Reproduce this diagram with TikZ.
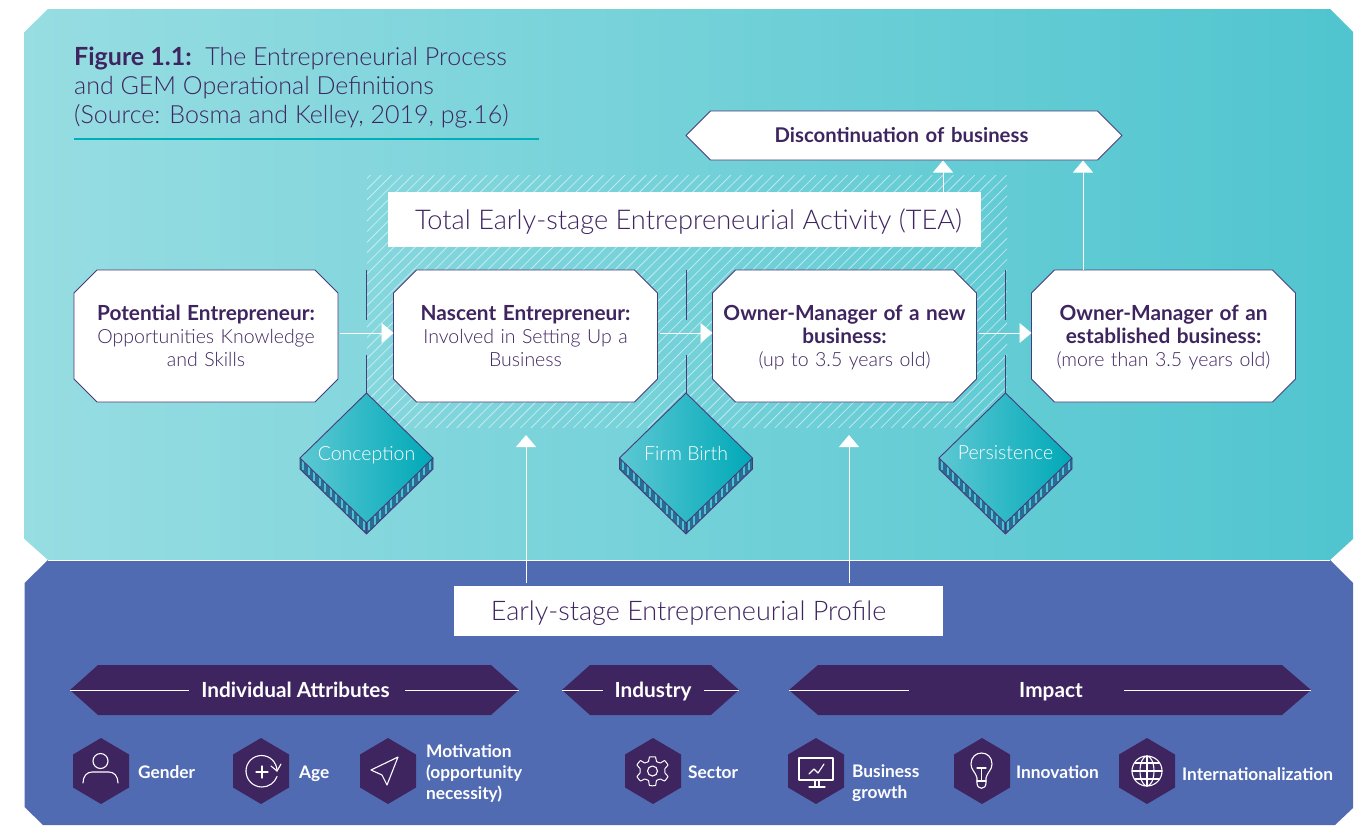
\documentclass[tikz,border=0pt]{standalone}
\usepackage{fontspec}
\setmainfont{Lato}[UprightFont=* Light,BoldFont=* Bold]
\usetikzlibrary{shapes.geometric,arrows.meta,calc}
\definecolor{purp}{HTML}{3F2560}
\definecolor{purpl}{HTML}{4B3A7A}
\definecolor{bluep}{HTML}{516BB3}
\definecolor{tealL}{HTML}{97DDE2}
\definecolor{tealR}{HTML}{50C5CF}
\definecolor{diaL}{HTML}{5CC8D3}
\definecolor{diaR}{HTML}{00A9B8}
\definecolor{tealline}{HTML}{00AEB8}
\newcommand{\bb}[1]{{\fontsize{20.8}{23}\selectfont\bfseries #1}}
\newcommand{\topstrut}{\rule{0pt}{21.1pt}}
\newcommand{\headstrut}{\rule[-7pt]{0pt}{33pt}}
\newcommand{\bandstrut}{\rule[-7.4pt]{0pt}{30.4pt}}
\tikzset{
  x=1pt,y=-1pt,
  whiteplate/.style={fill=white,draw=purpl,line width=.9pt,line join=round},
  darkplate/.style={fill=purp},
  stagebox/.style={rectangle,inner sep=0pt,outer sep=0pt,minimum width=264pt,minimum height=132pt,
    text=purp,align=center,text width=256pt,font=\fontsize{19.5}{23}\selectfont},
  discbox/.style={stagebox,minimum width=436pt,minimum height=49pt,text width=300pt,font=\fontsize{20.3}{24}\selectfont},
  titlebox/.style={fill=white,inner sep=0pt,outer sep=0pt,text=purp,font=\fontsize{27.2}{32}\selectfont},
  band/.style={rectangle,minimum height=50pt,inner sep=0pt,outer sep=0pt,text=white,font=\fontsize{20.8}{24}\selectfont\bfseries},
  hexa/.style={rectangle,minimum width=56pt,minimum height=66pt,inner sep=0pt,outer sep=0pt},
  gate/.style={diamond,minimum width=133pt,minimum height=130pt,aspect=1,inner sep=0pt,outer sep=0pt,draw=purpl,line width=.9pt,
    left color=diaL,right color=diaR,text=white,font=\fontsize{19.5}{23}\selectfont},
  flow/.style={white,line width=.9pt,-{Triangle[width=20pt,length=12pt]}},
  tick/.style={purpl,line width=1pt},
  bandline/.style={white,line width=.9pt},
  icon/.style={white,line width=1.1pt,line cap=round,line join=round},
  lab/.style={anchor=west,inner sep=0pt,text=white,align=left,font=\fontsize{17.3}{21}\selectfont\bfseries},
}
% plate: style, cx, cy, w, h, cutx, cuty
\newcommand{\plate}[7]{%
  \path[#1] ({#2-#4/2},{#3-#5/2+#7}) -- ({#2-#4/2+#6},{#3-#5/2}) -- ({#2+#4/2-#6},{#3-#5/2}) -- ({#2+#4/2},{#3-#5/2+#7})
    -- ({#2+#4/2},{#3+#5/2-#7}) -- ({#2+#4/2-#6},{#3+#5/2}) -- ({#2-#4/2+#6},{#3+#5/2}) -- ({#2-#4/2},{#3+#5/2-#7}) -- cycle;}
\newcommand{\gateshadow}[1]{%
  \fill[purpl!55!diaR] (#1-66.5,458) -- (#1,523) -- (#1+66.5,458) -- (#1+66.5,469) -- (#1,534) -- (#1-66.5,469) -- cycle;
  \foreach \d in {2.75,8.25,...,66}{
    \draw[diaL!85!diaR,line width=1.7pt] (#1-\d,523-\d+1) -- (#1-\d,533-\d);
    \draw[diaL!85!diaR,line width=1.7pt] (#1+\d,523-\d+1) -- (#1+\d,533-\d);
  }
  \draw[purpl,line width=.9pt,line join=round] (#1-66.5,458) -- (#1-66.5,469) -- (#1,534) -- (#1+66.5,469) -- (#1+66.5,458);
  \draw[purpl,line width=.9pt] (#1,523) -- (#1,534);
}
\begin{document}
\begin{tikzpicture}
\useasboundingbox (0,0) rectangle (1370,825);
\fill[white] (0,0) rectangle (1370,825);
% panels
\shade[left color=tealL,right color=tealR] (24.5,32) -- (48,9) -- (1330,9) -- (1353,32) -- (1353,539) -- (1330,560) -- (48,560) -- (24.5,539) -- cycle;
\fill[bluep] (48,560) -- (1330,560) -- (1353,583) -- (1353,808) -- (1335,825) -- (43,825) -- (24.5,807) -- (24.5,583) -- cycle;
\draw[white,line width=.7pt] (48,560.5) -- (1330,560.5);
% title
\node[anchor=north west,inner sep=0pt,text=purp,align=left,font=\fontsize{25}{29.2}\selectfont] (fig) at (74,46.5)
  {\textbf{Figure 1.1:}\ \ The Entrepreneurial Process\\and GEM Operational Definitions\\(Source: Bosma and Kelley, 2019, pg.16)};
\draw[tealline,line width=2.8pt] (74,139) -- (539,139);
% hatch
\begin{scope}
\clip (367,175) rectangle (1007,428);
\foreach \i in {-260,-249.4,...,640}{
  \draw[white,opacity=.55,line width=.8pt] (367+\i,428) -- (367+\i+253,175);
}
\end{scope}
% boxes
\plate{whiteplate}{206}{336}{264}{132}{23}{23}
\plate{whiteplate}{525.5}{336}{264}{132}{23}{23}
\plate{whiteplate}{844.5}{336}{264}{132}{23}{23}
\plate{whiteplate}{1163.5}{336}{264}{132}{23}{23}
\plate{whiteplate}{904}{135.5}{436}{49}{24.5}{24.5}
\node[stagebox] (pot) at (206,336) {\topstrut\bb{Potential Entrepreneur:}\\Opportunities Knowledge\\and Skills\strut};
\node[stagebox] (nas) at (525.5,336) {\topstrut\bb{Nascent Entrepreneur:}\\Involved in Setting Up a\\Business\strut};
\node[stagebox] (own) at (844.5,336) {\topstrut\bb{Owner-Manager of a new}\\\bb{business:}\\(up to 3.5 years old)\strut};
\node[stagebox] (est) at (1163.5,336) {\topstrut\bb{Owner-Manager of an}\\\bb{established business:}\\(more than 3.5 years old)\strut};
\node[discbox] (disc) at (904,135.5) {\hspace*{-5pt}\textbf{Discontinuation of business}};
\node[titlebox,minimum width=593pt,minimum height=55pt] (tea) at (684.5,219.5) {\hspace*{8pt}\headstrut Total Early-stage Entrepreneurial Activity (TEA)};
\node[titlebox,minimum width=489pt,minimum height=50pt,font=\fontsize{27}{32}\selectfont] (prof) at (698.5,611) {\hspace*{-20pt}\headstrut Early-stage Entrepreneurial Profile};
% gates
\gateshadow{366.5}\gateshadow{686}\gateshadow{1005.5}
\node[gate] (g1) at (366.5,458) {\raisebox{10pt}{Conception}};
\node[gate] (g2) at (686,458) {\raisebox{10pt}{Firm Birth}};
\node[gate] (g3) at (1005.5,458) {\raisebox{10pt}{Persistence}};
% ticks
\foreach \g/\x in {g1/366.5,g2/686,g3/1005.5}{
  \coordinate (t1\g) at (\x,270); \coordinate (t2\g) at (\x,320); \coordinate (t3\g) at (\x,355);
  \draw[tick] (t1\g) -- (t2\g);
  \draw[tick] (t3\g) -- (\g.north);
}
% connectors
\draw[flow,shorten <=2pt] ([yshift=3pt]pot.east) -- ([yshift=3pt]nas.west);
\draw[flow,shorten <=2pt] ([yshift=3pt]nas.east) -- ([yshift=3pt]own.west);
\draw[flow,shorten <=2pt] ([yshift=3pt]own.east) -- ([yshift=3pt]est.west);
\coordinate (e1) at (1083,270); \coordinate (d1) at (1083,160.5);
\coordinate (e2) at (943,192); \coordinate (d2) at (943,160.5);
\draw[flow] (e1) -- (d1);
\draw[flow] (e2) -- (d2);
\coordinate (p1) at (526,583); \coordinate (q1) at (526,435);
\coordinate (p2) at (849,583); \coordinate (q2) at (849,435);
\draw[flow] (p1) -- (q1);
\draw[flow] (p2) -- (q2);
% bands
\plate{darkplate}{294.5}{690}{449}{50}{28}{25}
\plate{darkplate}{650.5}{690}{177}{50}{28}{25}
\plate{darkplate}{1050}{690}{522}{50}{29}{25}
\node[band,minimum width=449pt] (b1) at (294.5,690) {\hspace*{2pt}\bandstrut Individual Attributes};
\node[band,minimum width=177pt] (b2) at (650.5,690) {\hspace*{5pt}\bandstrut Industry};
\node[band,minimum width=522pt] (b3) at (1050,690) {\hspace*{2pt}\bandstrut Impact};
\coordinate (b1a) at (189,690); \coordinate (b1b) at (405,690);
\coordinate (b2a) at (603,690); \coordinate (b2b) at (704,690);
\coordinate (b3a) at (909,690); \coordinate (b3b) at (1124,690);
\draw[bandline] (b1.west) -- (b1a); \draw[bandline] (b1b) -- (b1.east);
\draw[bandline] (b2.west) -- (b2a); \draw[bandline] (b2b) -- (b2.east);
\draw[bandline] (b3.west) -- (b3a); \draw[bandline] (b3b) -- (b3.east);
% hexagons
\foreach \n/\x in {h1/101,h2/261,h3/388,h4/653,h5/816,h6/982,h7/1147}{
  \plate{darkplate}{\x}{771}{56}{66}{28}{16.5}
  \node[hexa] (\n) at (\x,771) {};
}
% icons
\draw[icon] (100.5,761) circle (7.5);
\draw[icon] (83,783) .. controls (83,776) and (87,772) .. (92,772) -- (109,772) .. controls (114,772) and (118,776) .. (118,783);
\draw[icon] (246,771) arc (180:20:16);
\draw[icon] (277,771) arc (0:-180:15.5);
\draw[icon] (271,766) -- (277,771) -- (281,764);
\draw[icon] (256,772) -- (268,772) (262,766) -- (262,778);
\draw[icon] (398,757) -- (371,770) -- (382,775) -- (387,785) -- cycle;
\draw[icon,line width=1pt] plot[smooth cycle,tension=.25] coordinates {
  (649.5,757) (655.5,757) (656.5,761.5) (660.5,763) (664.5,760.5) (668,765) (665,768.5) (665,773) (668,776.5) (664.5,781) (660.5,779) (656.5,780.5) (655.5,785.5) (649.5,785.5) (648.5,780.5) (644.5,779) (640.5,781) (637,776.5) (640,773) (640,768.5) (637,765) (640.5,760.5) (644.5,763) (648.5,761.5)};
\draw[icon] (652.5,771) circle (5);
\draw[icon] (799,758) rectangle (833,780);
\draw[icon] (815,780) -- (815,787) (819,780) -- (819,787) (809,787) -- (825,787);
\draw[icon] (809,774) -- (814,769) -- (818,773) -- (824,764);
\draw[icon] (977,783) -- (977,778) .. controls (975,771) and (971,770) .. (971,764) .. controls (971,757) and (976,753) .. (981.5,753) .. controls (987,753) and (992,757) .. (992,764) .. controls (992,770) and (988,771) .. (986,778) -- (986,783) .. controls (986,790) and (977,790) .. (977,783) -- cycle;
\draw[icon] (977,781) -- (986,781);
\draw[icon] (977,768) -- (986,768) (981.5,768) -- (981.5,781);
\draw[icon] (1147,771) circle (15);
\draw[icon] (1147,771) ellipse (7 and 15);
\draw[icon] (1147,756) -- (1147,786);
\draw[icon] (1132,771) -- (1162,771) (1135,763) -- (1159,763) (1135,779) -- (1159,779);
% labels
\node[lab] (l1) at (138,774) {\strut Gender};
\node[lab] (l2) at (299,774) {\strut Age};
\node[lab] (l3) at (426,774) {\strut Motivation\\(opportunity\\necessity)\strut};
\node[lab] (l4) at (688,774) {\strut Sector};
\node[lab] (l5) at (852,784) {\strut Business\\growth\strut};
\node[lab] (l6) at (1016,774) {\strut Innovation};
\node[lab] (l7) at (1182,776) {\strut Internationalization};
\end{tikzpicture}
\end{document}
